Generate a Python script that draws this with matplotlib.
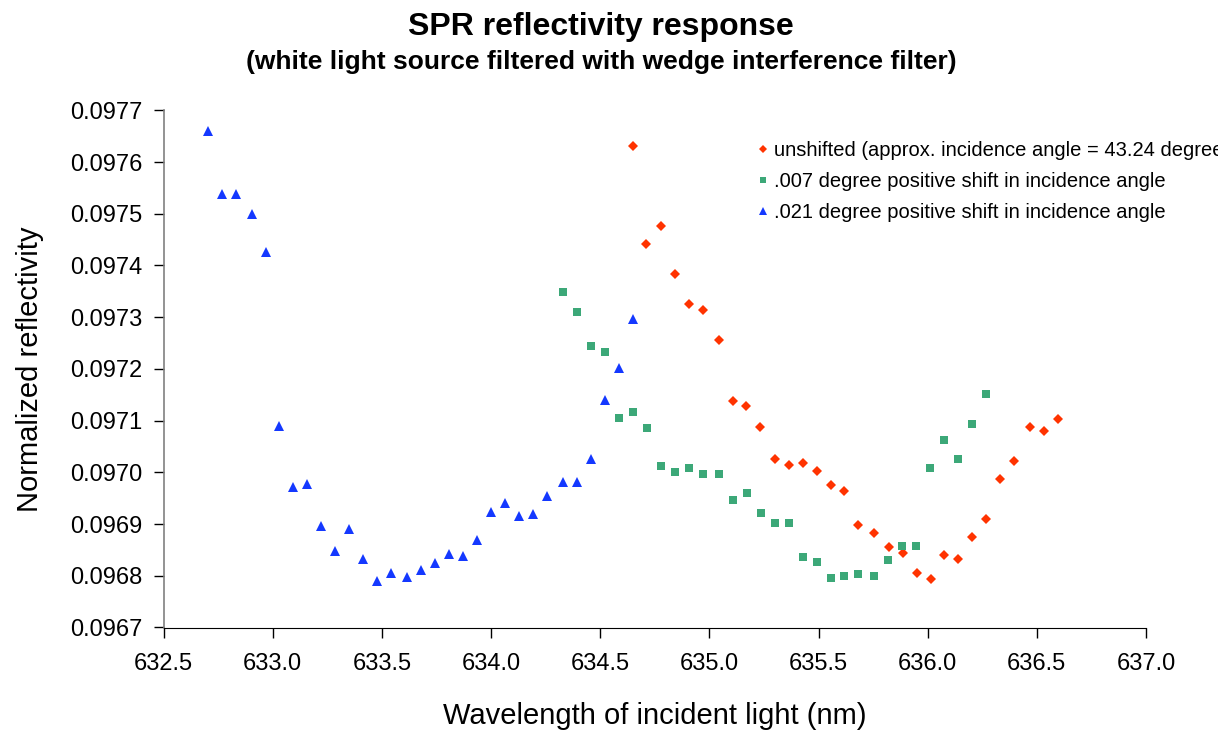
import matplotlib.pyplot as plt
from matplotlib.ticker import FormatStrFormatter, MultipleLocator


# wavelength (nm) and normalized reflectivity for each incidence angle
unshifted_nm = [634.650, 634.712, 634.778, 634.841, 634.905, 634.969, 635.042,
                635.108, 635.170, 635.234, 635.299, 635.363, 635.427, 635.491,
                635.555, 635.619, 635.683, 635.756, 635.821, 635.885, 635.949,
                636.013, 636.077, 636.141, 636.205, 636.267, 636.331, 636.396,
                636.469, 636.533, 636.597]
unshifted_refl = [0.097631, 0.097441, 0.097476, 0.097384, 0.097326, 0.097314,
                  0.097256, 0.097137, 0.097129, 0.097087, 0.097025, 0.097014,
                  0.097018, 0.097002, 0.096975, 0.096964, 0.096898, 0.096883,
                  0.096856, 0.096844, 0.096805, 0.096794, 0.096840, 0.096832,
                  0.096875, 0.096910, 0.096987, 0.097022, 0.097087, 0.097079,
                  0.097103]

shift007_nm = [634.329, 634.393, 634.457, 634.521, 634.586, 634.650, 634.714,
               634.778, 634.842, 634.906, 634.970, 635.043, 635.108, 635.172,
               635.236, 635.300, 635.364, 635.428, 635.492, 635.556, 635.616,
               635.680, 635.753, 635.817, 635.881, 635.945, 636.009, 636.073,
               636.138, 636.202, 636.266]
shift007_refl = [0.097349, 0.097310, 0.097245, 0.097233, 0.097105, 0.097117,
                 0.097086, 0.097013, 0.097001, 0.097009, 0.096997, 0.096997,
                 0.096946, 0.096961, 0.096922, 0.096903, 0.096903, 0.096837,
                 0.096826, 0.096795, 0.096799, 0.096803, 0.096799, 0.096830,
                 0.096857, 0.096857, 0.097009, 0.097063, 0.097025, 0.097094,
                 0.097152]

shift021_nm = [632.702, 632.766, 632.831, 632.904, 632.968, 633.030, 633.094,
               633.158, 633.223, 633.287, 633.351, 633.415, 633.479, 633.543,
               633.616, 633.680, 633.745, 633.809, 633.873, 633.937, 634.001,
               634.065, 634.129, 634.193, 634.257, 634.331, 634.395, 634.459,
               634.523, 634.587, 634.651]
shift021_refl = [0.097660, 0.097538, 0.097538, 0.097499, 0.097426, 0.097090,
                 0.096971, 0.096978, 0.096897, 0.096847, 0.096890, 0.096832,
                 0.096789, 0.096805, 0.096797, 0.096812, 0.096824, 0.096843,
                 0.096839, 0.096870, 0.096924, 0.096940, 0.096915, 0.096920,
                 0.096955, 0.096982, 0.096982, 0.097025, 0.097140, 0.097201,
                 0.097297]

series_labels = ["unshifted (approx. incidence angle = 43.24 degrees)",
                 ".007 degree positive shift in incidence angle",
                 ".021 degree positive shift in incidence angle"]

plt.rcParams['font.family'] = ['Liberation Sans', 'DejaVu Sans']

W, H = 1218, 736
fig = plt.figure(figsize=(W / 100, H / 100), dpi=100)
ax = fig.add_axes([163.5 / W, (H - 627.5) / H, 982.5 / W, 517.2 / H])

ax.plot(unshifted_nm, unshifted_refl, linestyle='none', marker='D',
        markersize=5.5, color='#FF3300', markeredgewidth=0,
        label=series_labels[0])
ax.plot(shift007_nm, shift007_refl, linestyle='none', marker='s',
        markersize=5.8, color='#3CA878', markeredgewidth=0,
        label=series_labels[1])
ax.plot(shift021_nm, shift021_refl, linestyle='none', marker='^',
        markersize=7.5, color='#1438FF', markeredgewidth=0,
        label=series_labels[2])

ax.set_xlim(632.5, 637.0)
ax.set_ylim(0.0967, 0.0977)
ax.xaxis.set_major_locator(MultipleLocator(0.5))
ax.yaxis.set_major_locator(MultipleLocator(0.0001))
ax.xaxis.set_major_formatter(FormatStrFormatter('%.1f'))
ax.yaxis.set_major_formatter(FormatStrFormatter('%.4f'))

for side in ('top', 'right'):
    ax.spines[side].set_visible(False)
ax.spines['left'].set_color('#808080')
ax.spines['left'].set_linewidth(1.2)
ax.spines['bottom'].set_color('black')
ax.tick_params(axis='both', direction='out', length=7, width=1,
               color='black', labelsize=17)
ax.tick_params(axis='x', pad=11)
ax.tick_params(axis='y', pad=8)

ax.set_xlabel('Wavelength of incident light (nm)', fontsize=21, labelpad=20)
ax.set_ylabel('Normalized reflectivity', fontsize=21, labelpad=19)

fig.text(601 / W, 1 - 27 / H, 'SPR reflectivity response', ha='center',
         va='center', fontsize=23, fontweight='bold')
fig.text(601 / W, 1 - 62 / H,
         '(white light source filtered with wedge interference filter)',
         ha='center', va='center', fontsize=19, fontweight='bold')

# legend sits in the upper right and runs past the figure edge
leg = ax.legend(loc='upper left', bbox_to_anchor=(748 / W, 1 - 131 / H),
                bbox_transform=fig.transFigure, frameon=False, fontsize=14.5,
                handlelength=0.45, handletextpad=0.35, labelspacing=0.6,
                markerscale=0.8, borderpad=0)

fig.savefig('out.png', dpi=100)
